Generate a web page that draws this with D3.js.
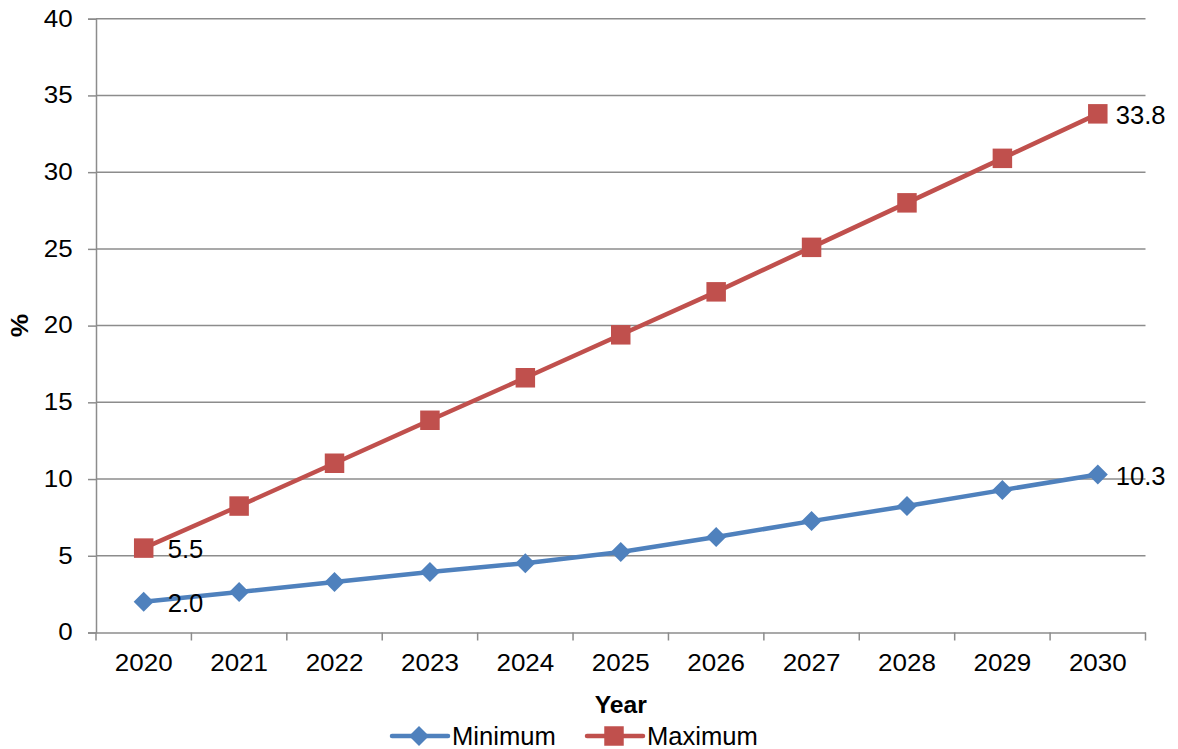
<!DOCTYPE html>
<html><head><meta charset="utf-8">
<script src="https://cdn.jsdelivr.net/npm/d3@7"></script>
<style>body{margin:0;background:#fff}svg{display:block;font-family:"Liberation Sans",Arial,sans-serif}</style>
</head><body><svg id="c" width="1178" height="749"></svg>
<script>
const years = ["2020","2021","2022","2023","2024","2025","2026","2027","2028","2029","2030"];
const minimum = [2.0,2.64,3.29,3.94,4.52,5.24,6.22,7.26,8.24,9.28,10.3];
const maximum = [5.5,8.24,11.03,13.83,16.6,19.4,22.2,25.1,28.0,30.9,33.8];
const yTicks = [0,5,10,15,20,25,30,35,40];
const seriesNames = ["Minimum","Maximum"];

const FONT = "Liberation Sans, Arial, sans-serif";
const FS = 25.6, TFS = 23, SX = 1.13;
const svg = d3.select("#c");
const L=96, R=1145.5, T=18.7, B=632.5;
const x = d3.scaleBand().domain(years).range([L,R]);
const y = d3.scaleLinear().domain([0,40]).range([B,T]);
const grid="#8c8c8c";

// gridlines
svg.append("g").selectAll("line").data(yTicks.filter(d=>d>0)).join("line")
  .attr("x1",L).attr("x2",R).attr("y1",d=>y(d)).attr("y2",d=>y(d))
  .attr("stroke",grid).attr("stroke-width",1.5);

// y axis
const ya = svg.append("g").attr("transform",`translate(${L},0)`)
  .call(d3.axisLeft(y).tickValues(yTicks).tickSize(8).tickPadding(12.6).tickFormat(d3.format("d")));
ya.select(".domain").attr("stroke",grid).attr("stroke-width",1.5);
ya.selectAll(".tick line").attr("stroke",grid).attr("stroke-width",1.5);
ya.selectAll("text").attr("font-size",TFS).attr("fill","#000").attr("font-family",FONT)
  .attr("transform",`scale(${SX},1)`);

// x axis
const xa = svg.append("g").attr("transform",`translate(0,${B})`)
  .call(d3.axisBottom(x).tickSize(0).tickPadding(22.2));
xa.select(".domain").attr("stroke",grid).attr("stroke-width",1.5);
xa.selectAll("text").attr("font-size",TFS).attr("fill","#000").attr("font-family",FONT)
  .attr("transform",`scale(${SX},1)`);
const bounds = years.map(d=>x(d)).concat([R]);
svg.append("g").selectAll("line").data(bounds).join("line")
  .attr("x1",d=>d).attr("x2",d=>d).attr("y1",B).attr("y2",B+8)
  .attr("stroke",grid).attr("stroke-width",1.5);

// axis titles
svg.append("text").attr("x",(L+R)/2).attr("y",712.5).attr("text-anchor","middle")
  .attr("font-size",24.7).attr("font-weight","bold").text("Year");
svg.append("text").attr("transform",`translate(28,${(T+B)/2}) rotate(-90) scale(1.1,1)`).attr("text-anchor","middle")
  .attr("font-size",24).attr("font-weight","bold").text("%");

const cx = d=>x(d)+x.bandwidth()/2;
const colors = ["#4F81BD","#C0504D"];
const data = [minimum, maximum];
const line = d3.line().x((d,i)=>cx(years[i])).y(d=>y(d));
const diamond = d3.symbol().type(d3.symbolDiamond2).size(255);
const square = d3.symbol().type(d3.symbolSquare).size(380);

data.forEach((vals,k)=>{
  svg.append("path").datum(vals).attr("d",line).attr("fill","none")
    .attr("stroke",colors[k]).attr("stroke-width",4.5).attr("stroke-linejoin","round");
  svg.append("g").selectAll("path").data(vals).join("path")
    .attr("transform",(d,i)=>`translate(${cx(years[i])},${y(d)})`)
    .attr("d",k===0?diamond:square).attr("fill",colors[k]);
  // labels first & last
  [[0,24],[vals.length-1,18]].forEach(([i,off])=>{
    svg.append("text").attr("x",cx(years[i])+off).attr("y",y(vals[i])+1).attr("dy","0.36em")
      .attr("font-size",FS).text(d3.format(".1f")(vals[i]));
  });
});

// legend
const leg = [{x:392,name:seriesNames[0]},{x:587,name:seriesNames[1]}];
leg.forEach((l,k)=>{
  const g = svg.append("g").attr("transform",`translate(${l.x},736)`);
  g.append("line").attr("x1",0).attr("x2",56).attr("stroke",colors[k]).attr("stroke-width",4.5).attr("stroke-linecap","round");
  g.append("path").attr("transform","translate(27,0)").attr("d",k===0?diamond:square).attr("fill",colors[k]);
  g.append("text").attr("x",60).attr("y",9).attr("font-size",FS).text(l.name);
});
</script></body></html>
